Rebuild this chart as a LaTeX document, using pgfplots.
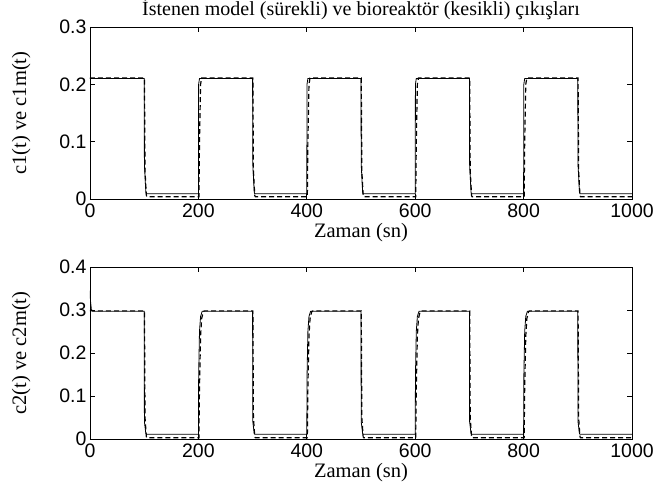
\documentclass[border=0pt]{standalone}
\usepackage{fontspec}
\setmainfont{Liberation Serif}
\setsansfont{Liberation Sans}
\usepackage{pgfplots}
\pgfplotsset{compat=1.18}

\pgfplotsset{
  matlab/.style={
    scale only axis, width=542pt, height=172pt,
    xmin=0, xmax=1000,
    xtick={0,200,...,1000},
    tick align=inside, major tick length=5pt,
    axis line style={line width=0.8pt},
    tick style={line width=0.8pt, black},
    tick label style={font=\sffamily\fontsize{19.5}{19.5}\selectfont, /pgf/number format/assume math mode=true, /pgf/number format/fixed, /pgf/number format/1000 sep={}},
    xticklabel style={yshift=-1pt},
    label style={font=\fontsize{20.5}{20.5}\selectfont},
    xlabel style={at={(axis description cs:0.5,0)}, anchor=center, yshift=-34pt},
    ylabel style={at={(axis description cs:-0.127,0.5)}, anchor=center},
    xlabel={Zaman (sn)},
  },
  solid line/.style={black, line width=0.8pt},
  dash line/.style={black, line width=1.2pt, dash pattern=on 5pt off 3pt},
}

\begin{document}
\begin{tikzpicture}
\begin{axis}[matlab, at={(0,0)}, anchor=south west,
    ymin=0, ymax=0.3, ytick={0,0.1,0.2,0.3},
    ylabel={c1(t) ve c1m(t)},
    title={İstenen model (sürekli) ve bioreaktör (kesikli) çıkışları},
    title style={font=\fontsize{20}{20}\selectfont, at={(axis description cs:0.5,1)}, anchor=base, yshift=5pt, inner sep=0pt},
]
\addplot[solid line] coordinates {
(0,0.21) (100,0.21) (100.4,0.06) (103,0.012) (104,0.009) (200,0.009) (200.4,0.2) (202,0.21)
(300,0.21) (300.4,0.06) (303,0.012) (304,0.009) (400,0.009) (400.4,0.2) (402,0.21)
(500,0.21) (500.4,0.06) (503,0.012) (504,0.009) (600,0.009) (600.4,0.2) (602,0.21)
(700,0.21) (700.4,0.06) (703,0.012) (704,0.009) (800,0.009) (800.4,0.2) (802,0.21)
(900,0.21) (900.4,0.06) (903,0.012) (904,0.009) (1000,0.009)
};
\addplot[dash line] coordinates {
(0,0.211) (100.5,0.211) (101.5,0.05) (104,0.006) (105,0.004) (201,0.004) (202,0.1) (204,0.2) (206,0.211)
(300.5,0.211) (301.5,0.05) (304,0.006) (305,0.004) (401,0.004) (402,0.1) (404,0.2) (406,0.211)
(500.5,0.211) (501.5,0.05) (504,0.006) (505,0.004) (601,0.004) (602,0.1) (604,0.2) (606,0.211)
(700.5,0.211) (701.5,0.05) (704,0.006) (705,0.004) (801,0.004) (802,0.1) (804,0.2) (806,0.211)
(900.5,0.211) (901.5,0.05) (904,0.006) (905,0.004) (1000,0.004)
};
\end{axis}

\begin{axis}[matlab, at={(0,-240pt)}, anchor=south west,
    ymin=0, ymax=0.4, ytick={0,0.1,0.2,0.3,0.4},
    ylabel={c2(t) ve c2m(t)},
]
\addplot[solid line] coordinates {
(0,0.345) (1,0.32) (2.5,0.302) (5,0.297) (100,0.297) (100.4,0.04) (103,0.013) (104,0.011)
(200,0.011) (200.5,0.15) (202,0.25) (204,0.285) (207,0.297)
(300,0.297) (300.4,0.04) (303,0.013) (304,0.011)
(400,0.011) (400.5,0.15) (402,0.25) (404,0.285) (407,0.297)
(500,0.297) (500.4,0.04) (503,0.013) (504,0.011)
(600,0.011) (600.5,0.15) (602,0.25) (604,0.285) (607,0.297)
(700,0.297) (700.4,0.04) (703,0.013) (704,0.011)
(800,0.011) (800.5,0.15) (802,0.25) (804,0.285) (807,0.297)
(900,0.297) (900.4,0.04) (903,0.013) (904,0.011) (1000,0.011)
};
\addplot[dash line] coordinates {
(0,0.298) (100.5,0.298) (101.5,0.05) (104,0.005) (105,0.003)
(201,0.003) (202,0.12) (204,0.24) (206,0.28) (209,0.296) (211,0.298)
(300.5,0.298) (301.5,0.05) (304,0.005) (305,0.003)
(401,0.003) (402,0.12) (404,0.24) (406,0.28) (409,0.296) (411,0.298)
(500.5,0.298) (501.5,0.05) (504,0.005) (505,0.003)
(601,0.003) (602,0.12) (604,0.24) (606,0.28) (609,0.296) (611,0.298)
(700.5,0.298) (701.5,0.05) (704,0.005) (705,0.003)
(801,0.003) (802,0.12) (804,0.24) (806,0.28) (809,0.296) (811,0.298)
(900.5,0.298) (901.5,0.05) (904,0.005) (905,0.003) (1000,0.003)
};
\end{axis}
\pgfresetboundingbox
\path (-90pt,-295pt) rectangle (565pt,199pt);
\end{tikzpicture}
\end{document}
